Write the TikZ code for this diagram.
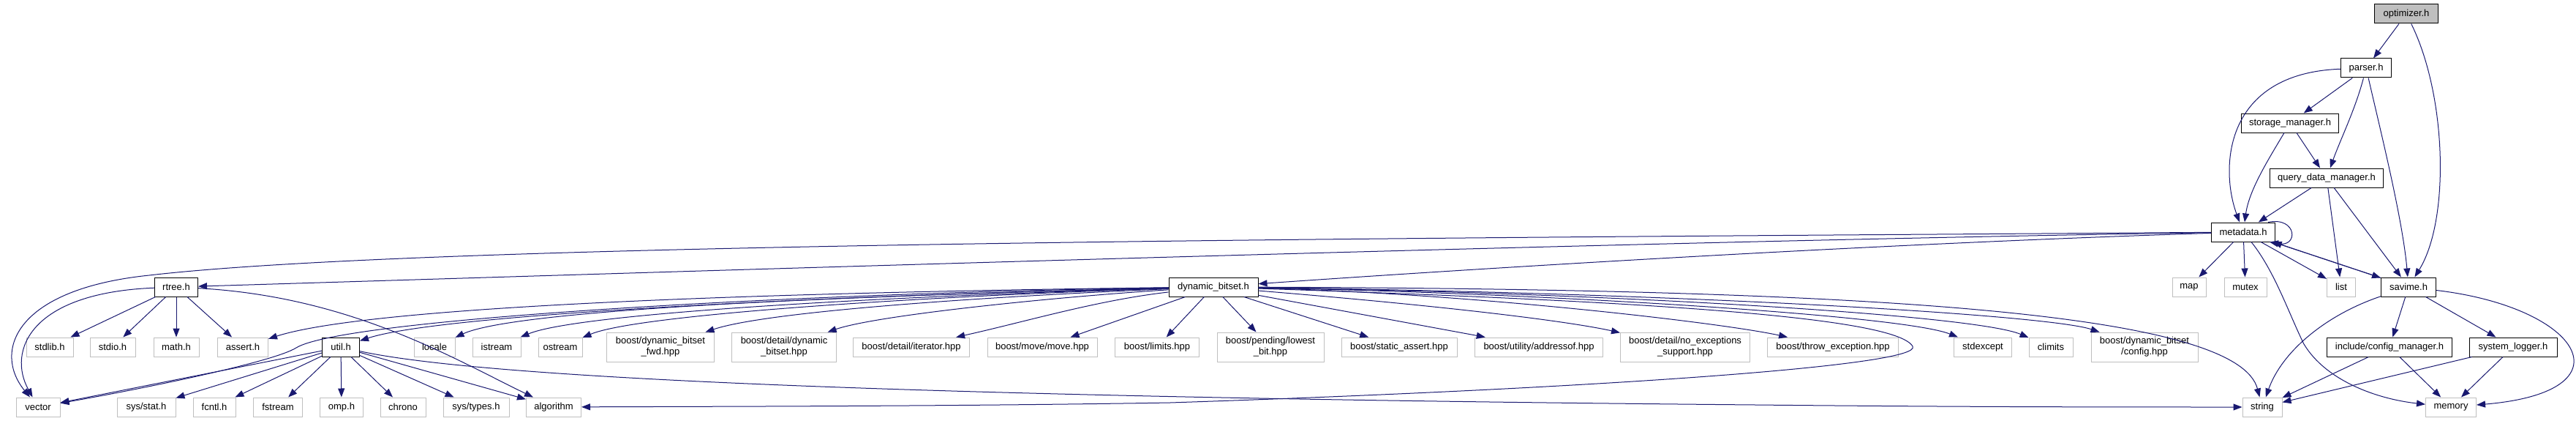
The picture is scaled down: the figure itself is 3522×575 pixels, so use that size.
\documentclass[tikz,border=0pt]{standalone}
\usepackage{fontspec}
\setmainfont{Liberation Sans}
\usetikzlibrary{arrows.meta}
\definecolor{edgecol}{HTML}{191970}
\definecolor{grayb}{HTML}{BFBFBF}
\tikzset{
  nbase/.style={rectangle, inner sep=0pt, minimum height=26pt, font=\fontsize{13}{15}\selectfont, align=center, line width=1pt, text=black},
  extnode/.style={nbase, draw=grayb},
  docnode/.style={nbase, draw=black},
  rootnode/.style={nbase, draw=black, fill=grayb},
  twoline/.style={minimum height=40pt},
  conn/.style={draw=edgecol, line width=1pt, -{Triangle[length=12pt,width=9pt]}}
}
\begin{document}
\begin{tikzpicture}[x=1pt,y=-1pt]
\useasboundingbox (0,0) rectangle (3522,575);
% rank 0-4
\node[rootnode, minimum width=87pt] (opt) at (3290,19) {optimizer.h};
\node[docnode, minimum width=69pt] (parser) at (3235,93) {parser.h};
\node[docnode, minimum width=133pt] (storage) at (3131,168) {storage\_manager.h};
\node[docnode, minimum width=155pt] (qdm) at (3181,243) {query\_data\_manager.h};
\node[docnode, minimum width=87pt] (meta) at (3067,317) {metadata.h};
% rank 5
\node[docnode, minimum width=59pt] (rtree) at (241,392) {rtree.h};
\node[docnode, minimum width=122pt] (dyn) at (1659,392) {dynamic\_bitset.h};
\node[extnode, minimum width=46pt] (map) at (2993,392) {map};
\node[extnode, minimum width=58pt] (mutex) at (3070,392) {mutex};
\node[extnode, minimum width=39pt] (list) at (3201,392) {list};
\node[docnode, minimum width=75pt] (savime) at (3293,392) {savime.h};
% rank 6
\node[extnode, minimum width=64pt] (stdlib) at (68,474) {stdlib.h};
\node[extnode, minimum width=62pt] (stdio) at (154,474) {stdio.h};
\node[extnode, minimum width=62pt] (math) at (241,474) {math.h};
\node[extnode, minimum width=69pt] (assert) at (332,474) {assert.h};
\node[docnode, minimum width=51pt] (util) at (466,474) {util.h};
\node[extnode, minimum width=56pt] (locale) at (594,474) {locale};
\node[extnode, minimum width=66pt] (istream) at (679,474) {istream};
\node[extnode, minimum width=60pt] (ostream) at (766,474) {ostream};
\node[extnode, twoline, minimum width=147pt] (fwd) at (903,474) {boost/dynamic\_bitset\\\_fwd.hpp};
\node[extnode, twoline, minimum width=143pt] (ddyn) at (1072,474) {boost/detail/dynamic\\\_bitset.hpp};
\node[extnode, minimum width=159pt] (iter) at (1246,474) {boost/detail/iterator.hpp};
\node[extnode, minimum width=150pt] (move) at (1425,474) {boost/move/move.hpp};
\node[extnode, minimum width=115pt] (limits) at (1582,474) {boost/limits.hpp};
\node[extnode, twoline, minimum width=146pt] (lowest) at (1737,474) {boost/pending/lowest\\\_bit.hpp};
\node[extnode, minimum width=158pt] (sassert) at (1913,474) {boost/static\_assert.hpp};
\node[extnode, minimum width=175pt] (addr) at (2104,474) {boost/utility/addressof.hpp};
\node[extnode, twoline, minimum width=177pt] (noexc) at (2304,474) {boost/detail/no\_exceptions\\\_support.hpp};
\node[extnode, minimum width=179pt] (throwex) at (2506,474) {boost/throw\_exception.hpp};
\node[extnode, minimum width=79pt] (stdexc) at (2711,474) {stdexcept};
\node[extnode, minimum width=60pt] (climits) at (2804,474) {climits};
\node[extnode, twoline, minimum width=146pt] (config) at (2932,474) {boost/dynamic\_bitset\\/config.hpp};
\node[docnode, minimum width=171pt] (cfgmgr) at (3267,474) {include/config\_manager.h};
\node[docnode, minimum width=120pt] (logger) at (3436,474) {system\_logger.h};
% rank 7
\node[extnode, minimum width=60pt] (vector) at (52,556) {vector};
\node[extnode, minimum width=80pt] (sysstat) at (200,556) {sys/stat.h};
\node[extnode, minimum width=58pt] (fcntl) at (293,556) {fcntl.h};
\node[extnode, minimum width=67pt] (fstream) at (380,556) {fstream};
\node[extnode, minimum width=59pt] (omp) at (467,556) {omp.h};
\node[extnode, minimum width=62pt] (chrono) at (551,556) {chrono};
\node[extnode, minimum width=90pt] (systypes) at (651,556) {sys/types.h};
\node[extnode, minimum width=75pt] (algorithm) at (757,556) {algorithm};
\node[extnode, minimum width=54pt] (string) at (3093,556) {string};
\node[extnode, minimum width=69pt] (memory) at (3351,556) {memory};

% top edges
\draw[conn] (opt) -- (parser);
\draw[conn] (opt) .. controls (3345,130) and (3350,300) .. (savime);
\draw[conn] (parser) -- (storage);
\draw[conn] (parser) .. controls (3220,150) and (3200,190) .. (qdm);
\draw[conn] (parser) .. controls (3040,100) and (3035,230) .. (meta);
\draw[conn] (parser) .. controls (3255,180) and (3285,300) .. (savime);
\draw[conn] (storage) .. controls (3100,220) and (3075,260) .. (meta);
\draw[conn] (storage) -- (qdm);
\draw[conn] (qdm) -- (meta);
\draw[conn] (qdm) -- (list);
\draw[conn] (qdm) -- (savime);
% metadata edges
\draw[conn] ([xshift=-10pt]meta.north east) .. controls +(40,-8) and +(40,8) .. ([xshift=-8pt]meta.south east);
\draw[conn] (meta) -- (map);
\draw[conn] (meta) -- (mutex);
\draw[conn] (meta) -- (list);
\draw[conn] (meta) -- (savime);
\draw[conn] (savime) -- (meta);
\draw[conn] (meta) .. controls (3110,370) and (3130,430) .. (3150,470) .. controls (3180,520) and (3250,545) .. (memory);
\draw[conn] (meta) .. controls (2200,330) and (900,372) .. (rtree);
\draw[conn] (meta) .. controls (2000,325) and (600,330) .. (204,376) .. controls (20,395) and (-10,480) .. (vector);
\draw[conn] (meta) .. controls (2500,335) and (1900,375) .. (dyn);
% rtree edges
\draw[conn] (rtree) -- (stdlib);
\draw[conn] (rtree) -- (stdio);
\draw[conn] (rtree) -- (math);
\draw[conn] (rtree) -- (assert);
\draw[conn] (rtree) .. controls (40,400) and (10,480) .. (vector);
\draw[conn] (rtree) .. controls (480,405) and (620,490) .. (algorithm);
% util edges
\draw[conn] (util) -- (vector);
\draw[conn] (util) -- (sysstat);
\draw[conn] (util) -- (fcntl);
\draw[conn] (util) -- (fstream);
\draw[conn] (util) -- (omp);
\draw[conn] (util) -- (chrono);
\draw[conn] (util) -- (systypes);
\draw[conn] (util) -- (algorithm);
\draw[conn] (util) .. controls (700,525) and (1500,545) .. (2400,553) .. controls (2700,556) and (2900,556) .. (string);
% dynamic_bitset edges
\draw[conn] (dyn) .. controls (1100,400) and (470,435) .. (405,475) .. controls (375,494) and (200,530) .. (vector);
\draw[conn] (dyn) .. controls (1000,400) and (500,420) .. (assert);
\draw[conn] (dyn) .. controls (1100,405) and (600,430) .. (util);
\draw[conn] (dyn) .. controls (1100,405) and (700,425) .. (locale);
\draw[conn] (dyn) .. controls (1200,405) and (790,428) .. (istream);
\draw[conn] (dyn) .. controls (1250,405) and (870,430) .. (ostream);
\draw[conn] (dyn) .. controls (1350,405) and (1050,425) .. (fwd);
\draw[conn] (dyn) .. controls (1450,405) and (1200,430) .. (ddyn);
\draw[conn] (dyn) .. controls (1500,410) and (1400,440) .. (iter);
\draw[conn] (dyn) -- (move);
\draw[conn] (dyn) -- (limits);
\draw[conn] (dyn) -- (lowest);
\draw[conn] (dyn) -- (sassert);
\draw[conn] (dyn) -- (addr);
\draw[conn] (dyn) .. controls (2000,420) and (2150,440) .. (noexc);
\draw[conn] (dyn) .. controls (2000,400) and (2350,440) .. (throwex);
\draw[conn] (dyn) .. controls (2100,400) and (2600,430) .. (stdexc);
\draw[conn] (dyn) .. controls (2200,400) and (2700,430) .. (climits);
\draw[conn] (dyn) .. controls (2300,400) and (2800,430) .. (config);
\draw[conn] (dyn) .. controls (2600,395) and (3060,430) .. (string);
\draw[conn] (dyn) .. controls (2200,410) and (2590,430) .. (2615,473) .. controls (2630,499) and (2200,530) .. (1600,550) .. controls (1300,555) and (1000,555) .. (algorithm);
% savime edges
\draw[conn] (savime) .. controls (3180,430) and (3120,480) .. (string);
\draw[conn] (savime) -- (cfgmgr);
\draw[conn] (savime) -- (logger);
\draw[conn] (savime) .. controls (3530,420) and (3600,535) .. (memory);
\draw[conn] (cfgmgr) -- (string);
\draw[conn] (cfgmgr) -- (memory);
\draw[conn] (logger) -- (string);
\draw[conn] (logger) -- (memory);
\end{tikzpicture}
\end{document}
